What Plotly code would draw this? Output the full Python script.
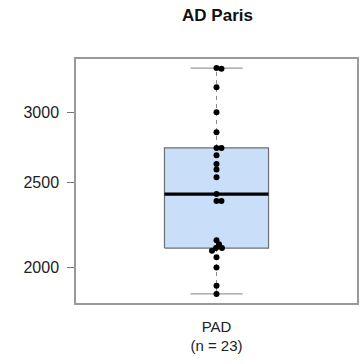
import numpy as np
import plotly.graph_objects as go

# Group and observations
group_label = "PAD"
title_text = "AD Paris"
values = [3364, 3370, 3204, 3002, 2850, 2735, 2735, 2683, 2623, 2585, 2533,
          2424, 2381, 2381, 2149, 2126, 2105, 2105, 2090, 2055, 2001, 1908, 1867]
y_ticks = [2000, 2500, 3000]

# Figure geometry
W, H = 364, 364
M = dict(l=76, r=5, t=59, b=61)
plot_w = W - M["l"] - M["r"]
plot_h = H - M["t"] - M["b"]

vals = np.array(values, dtype=float)
n = len(vals)

# Tukey five-number summary (hinges)
s = np.sort(vals)
med = float(np.median(s))
half = (n + 1) // 2
q1 = float(np.median(s[:half]))
q3 = float(np.median(s[n - half:]))
iqr = q3 - q1
lo_w = float(s[s >= q1 - 1.5 * iqr].min())
hi_w = float(s[s <= q3 + 1.5 * iqr].max())

# Axis ranges: log y with 4% padding, x around the single group
lv = np.log10(vals)
span = lv.max() - lv.min()
y_range = [lv.min() - 0.04 * span, lv.max() + 0.04 * span]
x_range = [0.46, 1.54]
box_hw = 0.2
cap_hw = 0.1

# Simple swarm layout so overlapping points sit side by side
dot = 4.8
px_per_log = plot_h / (y_range[1] - y_range[0])
px_per_x = plot_w / (x_range[1] - x_range[0])
steps = np.arange(0, 4 * dot, 0.5)
candidates = [0.0] + [v for st in steps[1:] for v in (st, -st)]
order = np.argsort(-lv)
placed = []
xs = np.zeros(n)
for i in order:
    yp = lv[i] * px_per_log
    for xp in candidates:
        if all((xp - px) ** 2 + (yp - py) ** 2 >= dot ** 2 for px, py in placed):
            break
    placed.append((xp, yp))
    xs[i] = 1 + xp / px_per_x

grey = "#8c8c8c"
fig = go.Figure()

# Dashed whiskers
fig.add_trace(go.Scatter(
    x=[1, 1, None, 1, 1], y=[q3, hi_w, None, q1, lo_w], mode="lines",
    line=dict(color=grey, width=1, dash="4px,4px"), hoverinfo="skip"))
# Whisker caps
fig.add_trace(go.Scatter(
    x=[1 - cap_hw, 1 + cap_hw, None, 1 - cap_hw, 1 + cap_hw],
    y=[hi_w, hi_w, None, lo_w, lo_w], mode="lines",
    line=dict(color="#999999", width=1.3), hoverinfo="skip"))
# Box
fig.add_trace(go.Scatter(
    x=[1 - box_hw, 1 + box_hw, 1 + box_hw, 1 - box_hw, 1 - box_hw],
    y=[q1, q1, q3, q3, q1], mode="lines", fill="toself",
    fillcolor="#c8def9", line=dict(color="#6f6f6f", width=1.2), hoverinfo="skip"))
# Median
fig.add_trace(go.Scatter(
    x=[1 - box_hw, 1 + box_hw], y=[med, med], mode="lines",
    line=dict(color="black", width=3.2), hoverinfo="skip"))
# Observations
fig.add_trace(go.Scatter(
    x=xs, y=vals, mode="markers",
    marker=dict(color="black", size=6, line=dict(width=0))))

font = "Liberation Sans, Arial, sans-serif"
fig.update_layout(
    width=W, height=H, margin=M, showlegend=False,
    paper_bgcolor="white", plot_bgcolor="white",
    font=dict(family=font, color="#222222", size=15),
    title=dict(text="<b>" + title_text + "</b>", x=(M["l"] + plot_w / 2) / W,
               xanchor="center", y=1 - 15 / H, yanchor="middle",
               font=dict(size=17, color="#111111")),
)
fig.update_xaxes(
    range=x_range, tickvals=[1], ticktext=[f"{group_label}<br>(n = {n})"],
    ticks="", showgrid=False, zeroline=False, showline=True, mirror=True,
    linecolor="#9a9a9a", linewidth=1.5, tickfont=dict(size=15),
    ticklabelstandoff=9)
fig.update_yaxes(
    type="log", range=y_range, tickvals=y_ticks, ticktext=[str(t) for t in y_ticks],
    ticks="outside", ticklen=7, tickcolor="#777777", tickwidth=1,
    showgrid=False, zeroline=False, showline=True, mirror=True,
    linecolor="#9a9a9a", linewidth=1.5, tickfont=dict(size=16),
    ticklabelstandoff=5)

fig.write_html("out.html")
